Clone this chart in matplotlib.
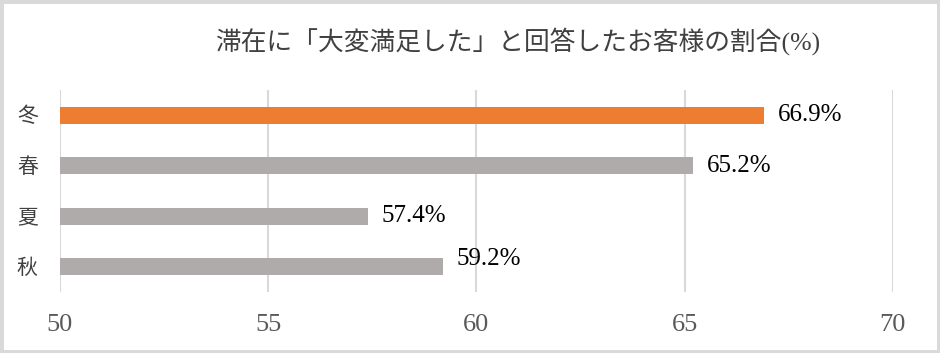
import matplotlib.pyplot as plt
from matplotlib.patches import Rectangle

# data
seasons = ["冬", "春", "夏", "秋"]
values = [66.9, 65.2, 57.4, 59.2]
bar_colors = ["#ED7D31", "#AFABAB", "#AFABAB", "#AFABAB"]
value_labels = ["66.9%", "65.2%", "57.4%", "59.2%"]
label_dy = [0, 0, 0, -0.16]
xticks = [50, 55, 60, 65, 70]
title = "滞在に「大変満足した」と回答したお客様の割合(%)"

fonts = ["Liberation Serif", "Noto Sans CJK JP"]
plt.rcParams["font.family"] = fonts

fig = plt.figure(figsize=(9.4, 3.53), dpi=100)
ax = fig.add_axes([0.0638, 0.173, 0.886, 0.572])

y = list(range(len(seasons)))
ax.barh(y, [v - 50 for v in values], left=50, height=0.34, color=bar_colors, zorder=3)

for i, v in enumerate(values):
    ax.text(v + 0.33, y[i] + label_dy[i], value_labels[i], va="center", ha="left",
            fontsize=18, color="#000000")

ax.set_xlim(50, 70)
ax.set_ylim(3.5, -0.5)
ax.set_xticks(xticks)
ax.set_xticklabels([str(t) for t in xticks], fontsize=19, color="#595959")
ax.set_yticks(y)
ax.set_yticklabels(seasons, fontsize=15, color="#404040")
ax.tick_params(axis="x", length=0, pad=16)
ax.tick_params(axis="y", length=0, pad=16)
ax.xaxis.grid(True, color="#D9D9D9", linewidth=1.5, zorder=0)
ax.set_axisbelow(True)
for s in ax.spines.values():
    s.set_visible(False)

fig.text(0.551, 0.885, title, ha="center", va="center", fontsize=18.5, color="#404040")

# outer frame
fig.patches.append(Rectangle((0, 0), 1, 1, transform=fig.transFigure, fill=False,
                             edgecolor="#D9D9D9", linewidth=5))

fig.savefig("out.png", dpi=100)
